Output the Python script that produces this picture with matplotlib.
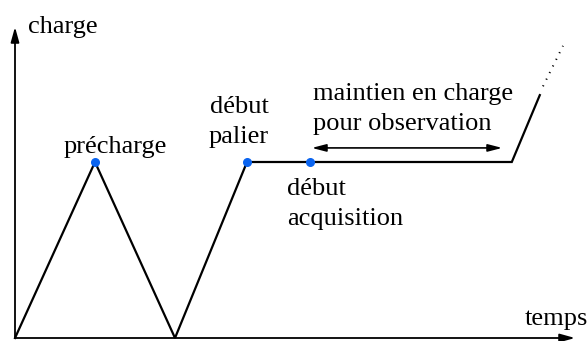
import matplotlib

matplotlib.use("Agg")

import matplotlib.pyplot as plt

# loading history (arbitrary time / load units)
t_path = [0.0, 1.0, 2.0, 2.9, 6.21, 6.56]
load_path = [0.0, 1.0, 0.0, 1.0, 1.0, 1.38]
t_dots = [6.6, 6.85]
load_dots = [1.43, 1.66]

t_marks = [1.0, 2.9, 3.69]
load_marks = [1.0, 1.0, 1.0]

hold_start, hold_end, hold_level = 3.71, 6.09, 1.08

# (text, t, load, ha) -- one entry per line, anchored on baseline
labels = [
    ("charge", 0.1625, 1.733, "left"),
    ("temps", 6.375, 0.074, "left"),
    ("précharge", 1.25, 1.051, "center"),
    ("début", 2.8, 1.278, "center"),
    ("palier", 2.8, 1.108, "center"),
    ("maintien en charge", 3.725, 1.352, "left"),
    ("pour observation", 3.725, 1.182, "left"),
    ("début", 3.4, 0.8125, "left"),
    ("acquisition", 3.4, 0.642, "left"),
]

plt.rcParams["font.family"] = ["Liberation Serif", "DejaVu Serif"]
FS = 19

fig = plt.figure(figsize=(5.87, 3.41), dpi=100)
ax = fig.add_axes([0, 0, 1, 1])
ax.set_xlim(-15 / 80, 572 / 80)
ax.set_ylim(-3 / 176, 338 / 176)
ax.axis("off")

# axes with arrows
arrow = dict(arrowstyle="-|>,head_length=0.9,head_width=0.25", color="black",
             lw=1.3, shrinkA=0, shrinkB=0)
ax.annotate("", xy=(7.0, 0), xytext=(0, 0), arrowprops=arrow)
ax.annotate("", xy=(0, 1.767), xytext=(0, 0), arrowprops=arrow)

ax.plot(t_path, load_path, color="black", lw=1.6, solid_joinstyle="miter")
ax.plot(t_dots, load_dots, color="black", lw=1.4, ls=(0, (0.6, 3.2)))
ax.scatter(t_marks, load_marks, s=30, color="#0a64f0", zorder=3)

dbl = dict(arrowstyle="<|-|>,head_length=0.85,head_width=0.22", color="black",
           lw=1.2, shrinkA=0, shrinkB=0)
ax.annotate("", xy=(hold_end, hold_level), xytext=(hold_start, hold_level),
            arrowprops=dbl)

for txt, t, load, ha in labels:
    ax.text(t, load, txt, fontsize=FS, va="baseline", ha=ha)

fig.savefig("out.png", dpi=100)
